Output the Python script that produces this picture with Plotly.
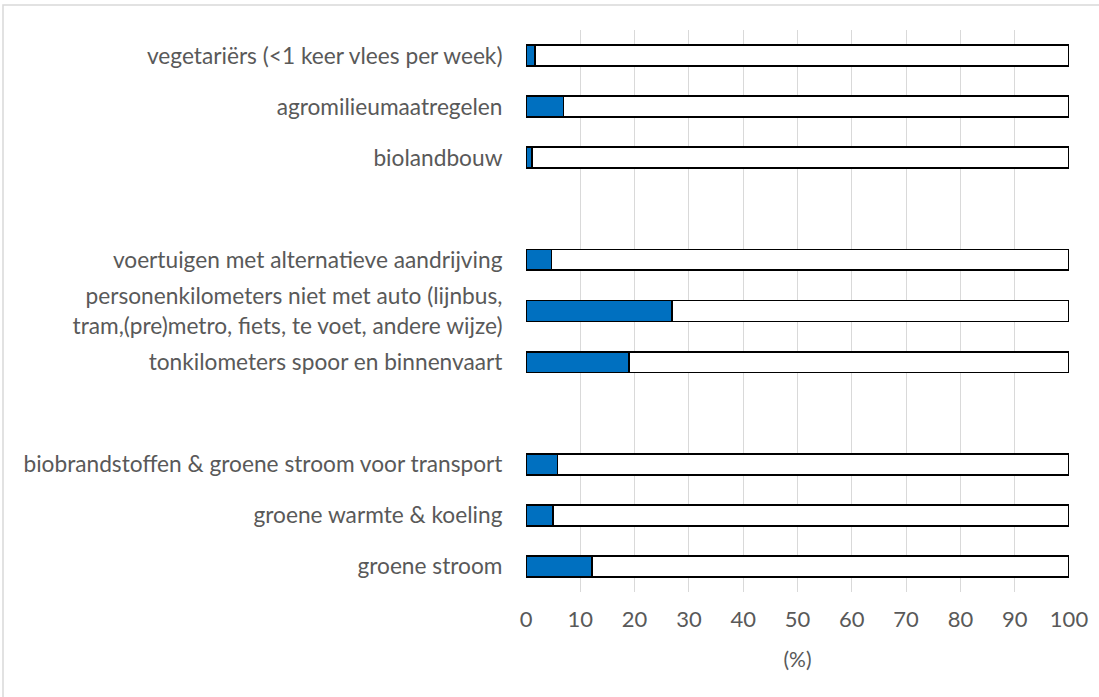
import plotly.graph_objects as go

# Indicator labels, top to bottom (empty strings are spacer rows between groups)
categories = [
    "vegetariërs (<1 keer vlees per week)",
    "agromilieumaatregelen",
    "biolandbouw",
    "",
    "voertuigen met alternatieve aandrijving",
    "personenkilometers niet met auto (lijnbus,<br>tram,(pre)metro, fiets, te voet, andere wijze)",
    "tonkilometers spoor en binnenvaart",
    "",
    "biobrandstoffen & groene stroom voor transport",
    "groene warmte & koeling",
    "groene stroom",
]
# Share achieved (%), None for spacer rows
shares = [1.7, 6.9, 1.1, None, 4.7, 26.9, 19.0, None, 5.8, 4.9, 12.2]
x_ticks = [0, 10, 20, 30, 40, 50, 60, 70, 80, 90, 100]

rows = [i for i, v in enumerate(shares) if v is not None]
vals = [shares[i] for i in rows]
rest = [100 - v for v in vals]

W, H = 1099, 697
L, R, T, B = 526, 30, 30, 105

fig = go.Figure()
fig.add_trace(go.Bar(
    y=rows, x=vals, orientation="h",
    marker=dict(color="#0070C0", line=dict(color="#000000", width=1.8)),
    showlegend=False, hoverinfo="x",
))
fig.add_trace(go.Bar(
    y=rows, x=rest, orientation="h",
    marker=dict(color="#FFFFFF", line=dict(color="#000000", width=1.8)),
    showlegend=False, hoverinfo="skip",
))

font_color = "#595959"
fam = "Lato, 'Open Sans', sans-serif"
fig.update_layout(
    width=W, height=H,
    margin=dict(l=L, r=R, t=T, b=B),
    barmode="stack",
    bargap=0.59,
    paper_bgcolor="white",
    plot_bgcolor="white",
    font=dict(family=fam, size=22, color=font_color),
    xaxis=dict(
        range=[0, 100],
        tickvals=x_ticks,
        ticktext=[str(t) for t in x_ticks],
        showgrid=True, gridcolor="#D9D9D9", gridwidth=1,
        zeroline=False, showline=False,
        ticks="outside", ticklen=8, tickcolor="rgba(0,0,0,0)",
        title=dict(text="(%)", standoff=20, font=dict(family=fam, size=21, color=font_color)),
        tickfont=dict(family=fam, size=22, color=font_color),
    ),
    yaxis=dict(
        tickvals=list(range(len(categories))),
        ticktext=categories,
        range=[len(categories) - 0.5, -0.5],
        showgrid=False, zeroline=False, showline=False,
        ticks="outside", ticklen=18, tickcolor="rgba(0,0,0,0)",
        tickfont=dict(family=fam, size=22.7, color=font_color),
    ),
)

# Chart frame (light grey border around the whole figure)
pw, ph = W - L - R, H - T - B
fig.add_shape(
    type="rect", xref="paper", yref="paper",
    x0=(3 - L) / pw, x1=(W + 20 - L) / pw,
    y0=-(H + 20 - T - ph) / ph, y1=(ph + T - 5) / ph,
    line=dict(color="#D9D9D9", width=1.5), fillcolor="rgba(0,0,0,0)",
    layer="below",
)

fig.write_html("out.html")
